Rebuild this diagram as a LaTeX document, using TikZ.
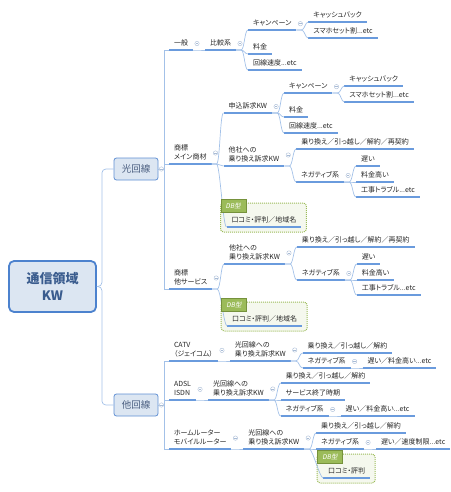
\documentclass[tikz,border=0pt]{standalone}
\usepackage{fontspec}
\setmainfont{Noto Sans CJK JP}[RawFeature=+palt]
\newfontfamily\tagfont{Noto Sans CJK JP}[FakeSlant=0.18]
\usetikzlibrary{positioning,calc,backgrounds}

\definecolor{linkc}{HTML}{A3C1E8}
\definecolor{ulinec}{HTML}{6A9BDD}
\definecolor{boxfill}{HTML}{DCE6F2}
\definecolor{boxdraw}{HTML}{5F8FD3}
\definecolor{rootdraw}{HTML}{4C82CE}
\definecolor{roottxt}{HTML}{3A5C8E}
\definecolor{maintxt}{HTML}{4A5E80}
\definecolor{foldc}{HTML}{A9BCD6}
\definecolor{dbgreen}{HTML}{9BBB59}
\definecolor{dbdark}{HTML}{76923C}
\definecolor{dbfill}{HTML}{F5F8EE}

\begin{document}
\begin{tikzpicture}[
  x=1pt, y=-1pt,
  font=\fontsize{7}{9}\selectfont,
  topic/.style={anchor=south west, inner xsep=5pt, inner ysep=2.8pt, outer sep=0pt,
                text depth=1.5pt, align=left, text=black!85},
  root/.style={draw=rootdraw, line width=1.8pt, fill=boxfill, rounded corners=5pt,
               minimum width=87pt, minimum height=51pt, align=center, text=roottxt,
               font=\fontsize{13}{17}\selectfont\bfseries},
  main/.style={draw=boxdraw, line width=0.8pt, fill=boxfill, rounded corners=2.5pt,
               minimum width=44pt, minimum height=22pt, text=maintxt,
               font=\fontsize{9.5}{11}\selectfont},
  link/.style={draw=linkc, line width=0.7pt},
  uline/.style={draw=ulinec, line width=1.3pt},
  fold/.style={circle, draw=foldc, fill=white, line width=0.4pt, minimum size=4.4pt,
               inner sep=0pt, path picture={\draw[foldc, line width=0.4pt]
               ([xshift=-1.3pt]path picture bounding box.center) --
               ([xshift=1.3pt]path picture bounding box.center);}},
  dbframe/.style={draw=dbgreen, line width=1pt, densely dotted, fill=dbfill,
                  rounded corners=3pt},
  dbtag/.style={draw=dbdark, line width=0.6pt, fill=dbgreen, text=white, anchor=north west,
                minimum width=25pt, minimum height=12.5pt, inner sep=1pt,
                font=\fontsize{6.5}{7}\tagfont},
]
\useasboundingbox (0,0) rectangle (450,492);
\def\col#1{\coordinate (#1-k) at ([xshift=12pt]#1.south east);}
\def\twig#1#2{\draw[link] (#1.south east) -- ++(5,0)
  to[out=0,in=180,distance=3.5pt] (#2.south west);}
\def\kid#1#2#3#4{\node[topic] (#2) at (#1-k |- 0,#3) {#4};
  \draw[uline] (#2.south west) -- (#2.south east); \twig{#1}{#2}}

% ---- centre and main branches ------------------------------------------------
\node[root] (root) at (52.5,286.5) {通信領域\\KW};
\node[main] (hikari) at (136,169) {光回線};
\node[main] (tako) at (136,405) {他回線};
\foreach \m in {hikari,tako}
  \draw[link, rounded corners=4pt] (root.east) -- ++(5,0) |- (\m.west);

% ---- first level -------------------------------------------------------------
\node[topic] (ippan)   at (169,50)  {一般};
\node[topic] (shohyo1) at (169,164) {商標\\メイン商材};
\node[topic] (shohyo2) at (169,289) {商標\\他サービス};
\node[topic] (catv)    at (169,361) {CATV\\（ジェイコム）};
\node[topic] (adsl)    at (169,400) {ADSL\\ISDN};
\node[topic] (router)  at (169,449) {ホームルーター\\モバイルルーター};
\foreach \n in {ippan,shohyo1,shohyo2,catv,adsl,router}
  \draw[uline] (\n.south west) -- (\n.south east);
\foreach \n in {ippan,shohyo1,shohyo2}
  \draw[link] (hikari.east) -- ++(6,0) |- (\n.south west);
\foreach \n in {catv,adsl,router}
  \draw[link] (tako.east) -- ++(6,0) |- (\n.south west);

% ---- 一般 ----------------------------------------------------------------------
\col{ippan}  \kid{ippan}{hikaku}{50}{比較系}
\col{hikaku} \kid{hikaku}{camp1}{30}{キャンペーン}
             \kid{hikaku}{ryokin1}{54}{料金}
             \kid{hikaku}{sokudo1}{70}{回線速度...etc}
\col{camp1}  \kid{camp1}{cb1}{22}{キャッシュバック}
             \kid{camp1}{sumaho1}{38}{スマホセット割...etc}

% ---- 商標 メイン商材 -------------------------------------------------------------
\col{shohyo1}    \kid{shohyo1}{moushikomi}{113}{申込訴求KW}
                 \kid{shohyo1}{tasha1}{166}{他社への\\乗り換え訴求KW}
\col{moushikomi} \kid{moushikomi}{camp2}{93}{キャンペーン}
                 \kid{moushikomi}{ryokin2}{117}{料金}
                 \kid{moushikomi}{sokudo2}{133}{回線速度...etc}
\col{camp2}      \kid{camp2}{cb2}{86}{キャッシュバック}
                 \kid{camp2}{sumaho2}{102}{スマホセット割...etc}
\col{tasha1}     \kid{tasha1}{norikae1}{149}{乗り換え／引っ越し／解約／再契約}
                 \kid{tasha1}{nega1}{182}{ネガティブ系}
\col{nega1}      \kid{nega1}{osoi1}{166}{遅い}
                 \kid{nega1}{takai1}{182}{料金高い}
                 \kid{nega1}{koji1}{197}{工事トラブル...etc}
\node[topic, xshift=3pt] (db1) at (shohyo1-k |- 0,227) {口コミ・評判／地域名};
\draw[uline] (db1.south west) -- (db1.south east); \twig{shohyo1}{db1}

% ---- 商標 他サービス -------------------------------------------------------------
\col{shohyo2} \kid{shohyo2}{tasha2}{264}{他社への\\乗り換え訴求KW}
\col{tasha2}  \kid{tasha2}{norikae2}{247}{乗り換え／引っ越し／解約／再契約}
              \kid{tasha2}{nega2}{280}{ネガティブ系}
\col{nega2}   \kid{nega2}{osoi2}{264}{遅い}
              \kid{nega2}{takai2}{280}{料金高い}
              \kid{nega2}{koji2}{295}{工事トラブル...etc}
\node[topic, xshift=3pt] (db2) at (shohyo2-k |- 0,326) {口コミ・評判／地域名};
\draw[uline] (db2.south west) -- (db2.south east); \twig{shohyo2}{db2}

% ---- 他回線 ----------------------------------------------------------------------
\col{catv}    \kid{catv}{hikari1}{361}{光回線への\\乗り換え訴求KW}
\col{hikari1} \kid{hikari1}{norikae3}{353}{乗り換え／引っ越し／解約}
              \kid{hikari1}{nega3}{368}{ネガティブ系}
\col{nega3}   \kid{nega3}{osoi3}{368}{遅い／料金高い...etc}
\col{adsl}    \kid{adsl}{hikari2}{400}{光回線への\\乗り換え訴求KW}
\col{hikari2} \kid{hikari2}{norikae4}{383}{乗り換え／引っ越し／解約}
              \kid{hikari2}{service}{400}{サービス終了時期}
              \kid{hikari2}{nega4}{416}{ネガティブ系}
\col{nega4}   \kid{nega4}{osoi4}{416}{遅い／料金高い...etc}
\col{router}  \kid{router}{hikari3}{449}{光回線への\\乗り換え訴求KW}
\col{hikari3} \kid{hikari3}{norikae5}{433}{乗り換え／引っ越し／解約}
              \kid{hikari3}{nega5}{449}{ネガティブ系}
\col{nega5}   \kid{nega5}{osoi5}{449}{遅い／速度制限...etc}
\node[topic, xshift=7pt] (db3) at (hikari3-k |- 0,478) {口コミ・評判};
\draw[uline] (db3.south west) -- (db3.south east); \twig{hikari3}{db3}

% ---- DB boxes ------------------------------------------------------------------
\begin{scope}[on background layer]
  \foreach \d in {db1,db2,db3}
    \draw[dbframe] ($(\d.south west)+(-6,-24)$) rectangle ($(\d.south east)+(5,5)$);
\end{scope}
\foreach \d in {db1,db2,db3}
  \node[dbtag] (t-\d) at ($(\d.south west)+(-6,-28)$) {DB型};

% ---- fold markers ----------------------------------------------------------------
\foreach \m in {hikari,tako}
  \node[fold] (f-\m) at ([xshift=3pt]\m.east) {};
\foreach \n in {ippan,hikaku,camp1,shohyo1,moushikomi,camp2,tasha1,nega1,shohyo2,
                tasha2,nega2,catv,hikari1,nega3,adsl,hikari2,nega4,router,hikari3,nega5}
  \node[fold] (f-\n) at ([xshift=4pt]\n.east) {};
\end{tikzpicture}
\end{document}
